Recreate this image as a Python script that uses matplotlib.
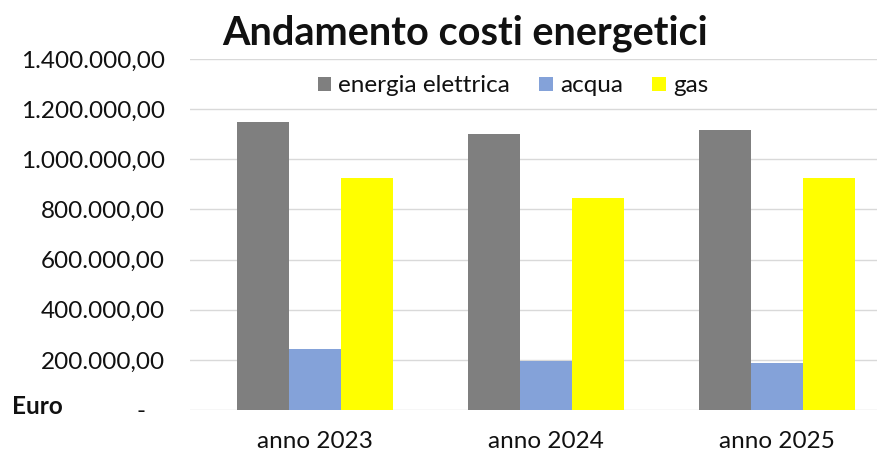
import matplotlib
matplotlib.use("Agg")
import matplotlib.pyplot as plt
import numpy as np
from matplotlib.ticker import FuncFormatter

categories = ["anno 2023", "anno 2024", "anno 2025"]
series_names = ["energia elettrica", "acqua", "gas"]
energia = [1147000, 1100000, 1115000]
acqua = [243000, 195000, 187000]
gas = [924000, 845000, 924000]
colors = ["#7f7f7f", "#84a2d9", "#ffff00"]

plt.rcParams['font.family'] = ['Lato', 'DejaVu Sans']

W, H = 878, 454
fig = plt.figure(figsize=(W / 100, H / 100), dpi=100)
ax = fig.add_axes([190 / W, 1 - 410 / H, (878 - 190) / W, (410 - 59) / H])

x = np.arange(len(categories))
bw = 0.225
for i, (vals, c, name) in enumerate(zip([energia, acqua, gas], colors, series_names)):
    ax.bar(x + (i - 1) * bw, vals, width=bw, color=c, label=name, zorder=2)

ax.set_ylim(0, 1400000)
ax.set_xlim((190 - 315) / 231, (878 - 315) / 231)
ax.set_yticks(np.arange(0, 1400001, 200000))


def fmt(v, pos):
    if v == 0:
        return "-   "
    s = f"{int(v):,}".replace(",", ".")
    return s + ",00"


ax.yaxis.set_major_formatter(FuncFormatter(fmt))
ax.set_xticks(x)
ax.set_xticklabels(categories)
ax.tick_params(axis='y', length=0, pad=18, labelsize=17.5, labelcolor="#111111")
ax.tick_params(axis='x', length=0, pad=15, labelsize=17.5, labelcolor="#111111")
ax.grid(axis='y', color="#d9d9d9", lw=1, zorder=0)
for s in ax.spines.values():
    s.set_visible(False)

fig.text(465 / W, 1 - 33 / H, "Andamento costi energetici", ha="center", va="center",
         fontsize=28.5, fontweight="bold", color="#111111")
fig.text(12 / W, 1 - 406 / H, "Euro", ha="left", va="center", fontsize=17.5,
         fontweight="bold", color="#111111")

leg = fig.legend(loc="center", bbox_to_anchor=(513 / W, 1 - 86 / H), ncol=3, frameon=False,
                 fontsize=17.5, handlelength=0.55, handleheight=0.55, handletextpad=0.3,
                 columnspacing=1.2)
for t in leg.get_texts():
    t.set_color("#111111")

fig.savefig("out.png", dpi=100, facecolor="white")
